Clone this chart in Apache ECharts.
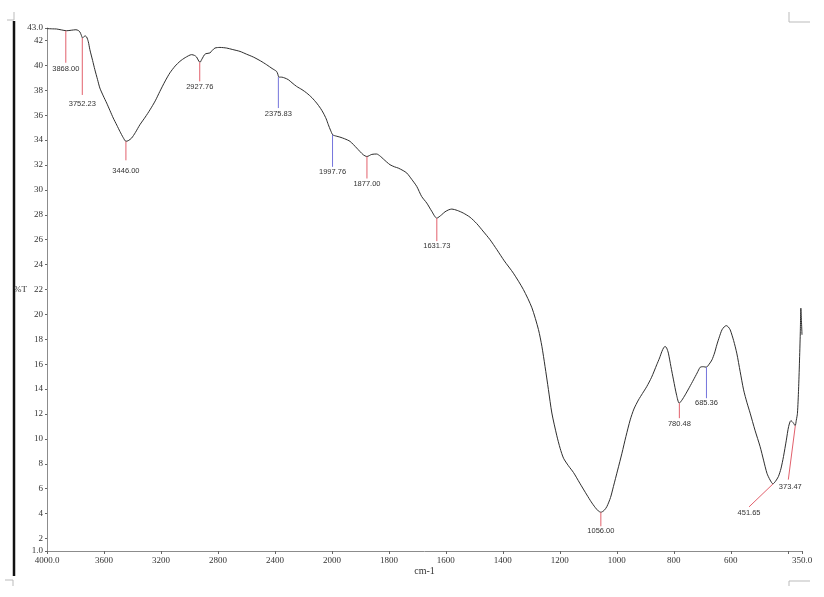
<!DOCTYPE html>
<html>
<head>
<meta charset="utf-8">
<script src="https://cdn.jsdelivr.net/npm/echarts@6/dist/echarts.min.js"></script>
<style>
html,body{margin:0;padding:0;background:#fff;}
#chart{width:824px;height:597px;}
</style>
</head>
<body>
<div id="chart"></div>
<script>
// ---- Data ----
const wavenumbers = [
  4000,3960,3933,3900,3862,3830,3797,3780,3769,3760,3750,3740,3734,3722,3710,3699,3680,3664,3645,3629,
  3605,3581,3558,3535,3510,3488,3465,3446,3430,3406,3380,3348,3310,3277,3240,3208,3170,3137,3100,3067,
  3030,2985,2965,2950,2935,2926,2915,2908,2895,2884,2856,2840,2821,2786,2739,2700,2645,2600,2552,2500,
  2458,2420,2388,2380,2372,2350,2330,2306,2280,2248,2210,2177,2140,2107,2080,2060,2040,2025,2010,1997,
  1985,1972,1955,1936,1913,1890,1877,1860,1843,1830,1819,1796,1780,1767,1750,1737,1720,1702,1685,1667,
  1650,1632,1615,1603,1590,1579,1560,1539,1515,1492,1470,1445,1421,1395,1363,1328,1298,1275,1263,1252,
  1240,1228,1211,1199,1187,1170,1152,1130,1105,1090,1076,1065,1056,1045,1035,1022,1012,997,982,968,953,
  940,924,910,895,878,860,850,842,835,830,825,819,810,801,790,781,772,760,745,731,
  718,707,696,686,676,666,657,649,640,631,623,616,609,602,590,579,567,555,543,532,
  515,497,485,473,462,452,443,433,424,415,405,397,389,381,374,370,366,362,359,356,
  354,352,350
];
const transmittance = [
  42.95,42.93,42.92,42.85,42.78,42.82,42.86,42.80,42.68,42.45,42.20,42.30,42.38,42.28,41.90,41.26,40.40,39.65,38.85,38.18,
  37.55,36.97,36.37,35.77,35.20,34.69,34.20,33.90,33.95,34.16,34.60,35.23,35.85,36.43,37.15,37.90,38.75,39.40,39.95,40.32,
  40.62,40.86,40.80,40.67,40.35,40.24,40.45,40.59,40.85,40.94,41.00,41.20,41.39,41.44,41.39,41.28,41.12,40.90,40.67,40.35,
  40.05,39.75,39.51,39.30,39.06,39.05,38.98,38.85,38.60,38.31,38.05,37.78,37.40,36.97,36.55,36.17,35.70,35.23,34.80,34.42,
  34.32,34.24,34.10,33.89,33.36,32.82,32.68,32.85,32.88,32.70,32.47,32.02,31.85,31.75,31.55,31.35,30.85,30.27,29.47,28.94,
  28.30,27.73,28.00,28.24,28.40,28.46,28.35,28.14,27.80,27.30,26.70,26.00,25.20,24.30,23.31,22.00,20.53,18.78,17.44,15.83,
  13.96,12.08,10.30,9.25,8.45,7.85,7.30,6.45,5.50,4.95,4.50,4.22,4.11,4.25,4.56,5.30,6.17,7.50,8.85,10.20,11.53,
  12.40,13.13,13.65,14.20,14.95,15.95,16.50,17.01,17.35,17.42,17.30,16.89,15.80,14.74,13.50,12.87,13.10,13.54,14.15,14.74,
  15.30,15.76,15.80,15.76,16.00,16.35,16.90,17.55,18.20,18.76,19.00,19.10,19.00,18.76,17.90,16.89,15.40,13.94,12.90,12.07,
  10.70,9.38,8.30,7.24,6.70,6.39,6.60,6.97,7.60,8.58,9.90,10.99,11.47,11.30,11.07,11.50,12.06,14.00,16.08,18.50,
  20.50,19.50,18.36
];

// Peak annotations
const peakWn = [3868.00,3752.23,3446.00,2927.76,2375.83,1997.76,1877.00,1631.73,1056.00,780.48,685.36,451.65,373.47];
const peakT  = [42.78,42.20,33.90,40.24,39.06,34.42,32.68,27.73,4.11,12.87,15.76,6.39,11.07];
const peakLabels = ['3868.00','3752.23','3446.00','2927.76','2375.83','1997.76','1877.00','1631.73','1056.00','780.48','685.36','451.65','373.47'];
const peakKind = ['r','r','r','r','b','b','r','r','r','r','b','r','r'];

// Tick values
const xTickWn  = [4000,3600,3200,2800,2400,2000,1800,1600,1400,1200,1000,800,600,400,350];
const xLabelWn = [4000,3600,3200,2800,2400,2000,1800,1600,1400,1200,1000,800,600,350];
const yTicks   = [1,2,4,6,8,10,12,14,16,18,20,22,24,26,28,30,32,34,36,38,40,42,43];

// ---- Layout / style (kept separate from data) ----
// marker line end offset (px) from the curve point, and label offset from line end
const markerLine = [[0,32],[0,57],[0,19],[0,19],[0,31],[0,32],[0,22],[0,23],[0,14],[0,15],[0,31],[-24,23],[-7,54]];
const labelOff   = [[0,1],[0,4],[0,6],[0,1],[0,1],[0,0],[0,0],[0,0],[0,0],[0,1],[0,0],[0,1],[2,2]];
const kindColor = {r:'#e2606c', b:'#7474dc'};

// Piecewise-linear wavenumber axis: 4000-2000 compressed 2x relative to 2000-350
function toPos(wn){ return wn >= 2000 ? (4000 - wn) / 2 : 1000 + (2000 - wn); }
function toWn(pos){ return pos <= 1000 ? 4000 - 2 * pos : 3000 - pos; }

const lineData = wavenumbers.map((w,i)=>[toPos(w), transmittance[i]]);
const peakData = peakWn.map((w,i)=>[toPos(w), peakT[i], i]);

const chart = echarts.init(document.getElementById('chart'), null, {renderer:'canvas'});
const serif = 'Liberation Serif, Times New Roman, serif';

chart.setOption({
  backgroundColor:'#ffffff',
  animation:false,
  grid:{left:47, right:22, top:28, bottom:46, containLabel:false},
  xAxis:{
    type:'value', min:0, max:toPos(350),
    name:'cm-1', nameLocation:'middle', nameGap:15, nameMoveOverlap:false,
    nameTextStyle:{fontFamily:serif, fontSize:10, color:'#333', verticalAlign:'top'},
    axisLine:{show:true, lineStyle:{color:'#8c8c8c', width:1}},
    axisTick:{show:true, length:3, lineStyle:{color:'#666'}, customValues:xTickWn.map(toPos)},
    axisLabel:{
      customValues:xLabelWn.map(toPos), margin:5,
      fontFamily:serif, fontSize:9, color:'#333',
      formatter:function(v){ const w = Math.round(toWn(v)); return (w===4000||w===350) ? w.toFixed(1) : String(w); }
    },
    splitLine:{show:false}
  },
  yAxis:{
    type:'value', min:1, max:43,
    name:'%T', nameLocation:'middle', nameRotate:0, nameGap:20, nameMoveOverlap:false,
    nameTextStyle:{fontFamily:serif, fontSize:9, color:'#333'},
    axisLine:{show:true, lineStyle:{color:'#8c8c8c', width:1}},
    axisTick:{show:true, length:2, lineStyle:{color:'#666'}, customValues:yTicks},
    axisLabel:{
      customValues:yTicks, margin:4,
      fontFamily:serif, fontSize:9, color:'#333',
      formatter:function(v){ return (v===1||v===43) ? v.toFixed(1) : String(v); }
    },
    splitLine:{show:false}
  },
  series:[
    {
      type:'line', data:lineData, showSymbol:false, smooth:0.25,
      lineStyle:{color:'#2e2e2e', width:1}, z:3
    },
    {
      type:'custom', data:peakData, z:4, clip:false,
      renderItem:function(params, api){
        const i = api.value(2);
        const p = api.coord([api.value(0), api.value(1)]);
        const m = markerLine[i], lo = labelOff[i];
        const ex = p[0] + m[0], ey = p[1] + m[1];
        return {
          type:'group',
          children:[
            {type:'line', shape:{x1:p[0], y1:p[1], x2:ex, y2:ey},
             style:{stroke:kindColor[peakKind[i]], lineWidth:1}},
            {type:'text', x:ex + lo[0], y:ey + 1 + lo[1],
             style:{text:peakLabels[i], fill:'#333', fontSize:7.5,
                    fontFamily:'Liberation Sans, Arial, sans-serif', align:'center', verticalAlign:'top'}}
          ]
        };
      }
    }
  ],
  graphic:[
    {type:'line', shape:{x1:14, y1:21, x2:14, y2:576}, style:{stroke:'#111', lineWidth:2.5}, silent:true},
    {type:'polyline', shape:{points:[[14,12],[14,20],[7,20]]}, style:{stroke:'#bbb', lineWidth:1, fill:null}, silent:true},
    {type:'polyline', shape:{points:[[5,580],[13,580],[13,586]]}, style:{stroke:'#bbb', lineWidth:1, fill:null}, silent:true},
    {type:'polyline', shape:{points:[[789,12],[789,22],[810,22]]}, style:{stroke:'#bbb', lineWidth:1, fill:null}, silent:true},
    {type:'polyline', shape:{points:[[789,586],[789,581],[810,581]]}, style:{stroke:'#bbb', lineWidth:1, fill:null}, silent:true}
  ]
});
</script>
</body>
</html>
